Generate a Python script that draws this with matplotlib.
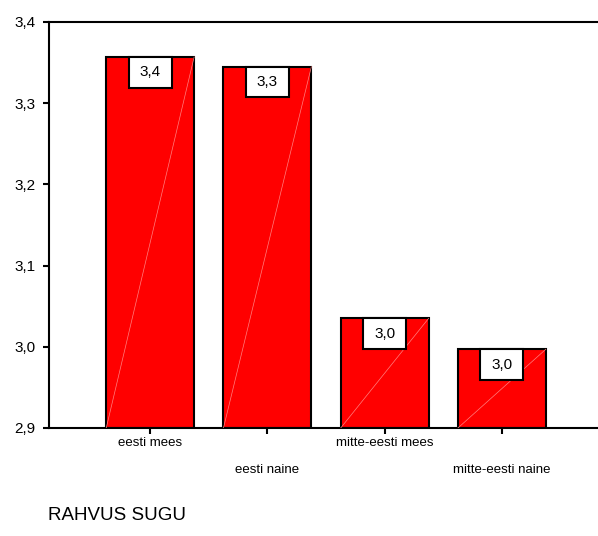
import matplotlib.pyplot as plt
from matplotlib.patches import Rectangle

categories = ["eesti mees", "eesti naine", "mitte-eesti mees", "mitte-eesti naine"]
values = [3.357, 3.345, 3.035, 2.997]
value_labels = ["3,4", "3,3", "3,0", "3,0"]
yticks = [2.9, 3.0, 3.1, 3.2, 3.3, 3.4]
ytick_labels = ["2,9", "3,0", "3,1", "3,2", "3,3", "3,4"]

plt.rcParams['font.family'] = ['Liberation Sans', 'DejaVu Sans']

fig = plt.figure(figsize=(5.98, 5.36), dpi=100)
ax = fig.add_axes([0.082, 0.2015, 0.918, 0.7575])

x = list(range(len(categories)))
bar_w = 0.75
ax.bar(x, [v - 2.9 for v in values], bottom=2.9, width=bar_w,
       color='#ff0000', edgecolor='black', linewidth=1.5, zorder=2)

# faint diagonal streak inside each bar (as in the original export)
for xi, v in zip(x, values):
    ax.plot([xi - bar_w / 2, xi + bar_w / 2], [2.9, v], color='#ff8080',
            linewidth=0.5, zorder=3)

# value labels in white boxes hanging from the bar tops
box_w, box_h = 0.367, 0.038
for xi, v, lab in zip(x, values, value_labels):
    ax.add_patch(Rectangle((xi - box_w / 2, v - box_h), box_w, box_h,
                           facecolor='white', edgecolor='black', linewidth=1.5, zorder=4))
    ax.text(xi, v - box_h / 2, lab, ha='center', va='center', fontsize=11, zorder=5)

ax.set_xlim(-0.863, 3.82)
ax.set_ylim(2.9, 3.4)
ax.set_yticks(yticks)
ax.set_yticklabels(ytick_labels, fontsize=11)
ax.set_xticks(x)
ax.set_xticklabels([])

# staggered category labels
for xi, cat in zip(x, categories):
    off = -11 if xi % 2 == 0 else -30
    ax.annotate(cat, xy=(xi, 2.9), xytext=(0, off), textcoords='offset points',
                ha='center', va='center', fontsize=9.5, annotation_clip=False)

ax.tick_params(axis='y', direction='out', length=4, width=1.5, pad=6)
ax.tick_params(axis='x', direction='out', length=4, width=1.5)
for s in ['left', 'bottom', 'top']:
    ax.spines[s].set_linewidth(1.5)
ax.spines['right'].set_visible(False)

fig.text(0.08, 0.038, "RAHVUS SUGU", fontsize=13.5, ha='left', va='center')

fig.savefig("out.png", dpi=100)
